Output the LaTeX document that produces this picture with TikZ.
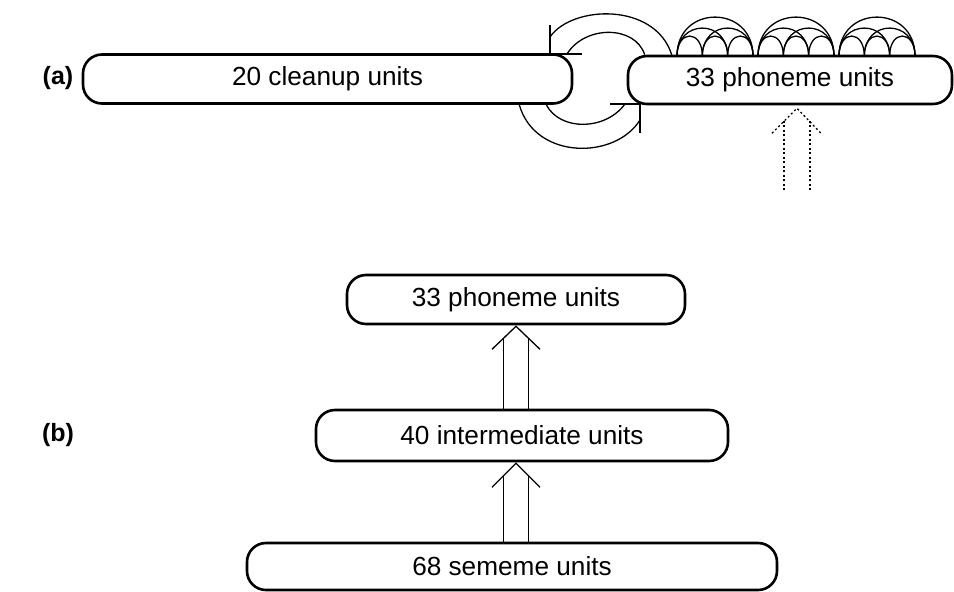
\documentclass[tikz,border=0pt]{standalone}
\usepackage{fontspec}
\setmainfont{Liberation Sans}
\usetikzlibrary{calc}
\begin{document}
\begin{tikzpicture}[x=1pt,y=-1pt,
  unitbox/.style={draw,line width=2.6pt,rounded corners=19pt,inner sep=0pt,font=\fontsize{26.2}{31}\selectfont},
  thinline/.style={line width=1.3pt},
  dotline/.style={line width=1.3pt,dash pattern=on 2pt off 2.5pt},
  panel/.style={font=\bfseries\fontsize{25}{30}\selectfont}]
\useasboundingbox (0,0) rectangle (954,592);
% (a)
\node[panel] (la) at (58,78) {(a)};
\node[unitbox,minimum width=489pt,minimum height=49pt] (cu) at (327.5,79) {20 cleanup units};
\node[unitbox,minimum width=324pt,minimum height=48pt] (pa) at (790,80) {33 phoneme units};
% self connections among phoneme units
\foreach \g in {677,758,839}{
  \foreach \i/\j/\h in {0/1/20,1/2/20,2/3/20,0/2/28,1/3/28,0/3/39}{
    \draw[thinline] (\g+25.33*\i,56) .. controls (\g+25.33*\i,56-1.33*\h) and (\g+25.33*\j,56-1.33*\h) .. (\g+25.33*\j,56);
  }
}
% phoneme -> cleanup (top)
\coordinate (t1) at (550,54);
\draw[thinline] ($(pa.north west)+(45,0)$) .. controls (655,2) and (572,5) .. ($(t1)+(0,-17)$);
\draw[thinline] ($(pa.north west)+(18,0)$) .. controls (635,25) and (585,25) .. ($(t1)+(17,0)$);
\draw[thinline] ($(t1)+(0,-29)$) -- (t1) -- ($(t1)+(32,0)$);
% cleanup -> phoneme (bottom)
\coordinate (t2) at (640,104);
\draw[thinline] ($(cu.south east)+(-54,0)$) .. controls (535,160) and (615,160) .. ($(t2)+(0,16)$);
\draw[thinline] ($(cu.south east)+(-27,0)$) .. controls (560,131) and (605,131) .. ($(t2)+(-15,0)$);
\draw[thinline] ($(t2)+(-30,0)$) -- (t2) -- ($(t2)+(0,29)$);
% dotted input arrow
\coordinate (t3) at ($(pa.south)+(7,3)$);
\coordinate (in1) at (784,190);
\coordinate (in2) at (810,190);
\draw[dotline] ($(t3)+(-25,25)$) -- (t3) -- ($(t3)+(24,25)$);
\draw[dotline] (in1) -- (784,121);
\draw[dotline] (in2) -- (810,121);
% (b)
\node[panel] (lb) at (58,435) {(b)};
\node[unitbox,minimum width=338pt,minimum height=49pt] (pb) at (516,299.5) {33 phoneme units};
\node[unitbox,minimum width=412pt,minimum height=51pt] (im) at (522,435.5) {40 intermediate units};
\node[unitbox,minimum width=530pt,minimum height=47pt] (se) at (512,566.5) {68 sememe units};
% intermediate -> phoneme
\draw[thinline] ($(pb.south)+(-24,24)$) -- ($(pb.south)+(0,1)$) -- ($(pb.south)+(24,24)$);
\draw[thinline] ($(pb.south)+(-12.5,12.5)$) -- ($(pb.south |- im.north)+(-12.5,0)$);
\draw[thinline] ($(pb.south)+(12.5,12.5)$) -- ($(pb.south |- im.north)+(12.5,0)$);
% sememe -> intermediate
\coordinate (t4) at ($(pb.south |- im.south)+(0,1)$);
\draw[thinline] ($(t4)+(-24,24)$) -- (t4) -- ($(t4)+(24,24)$);
\draw[thinline] ($(t4)+(-12.5,12.5)$) -- ($(t4 |- se.north)+(-12.5,0)$);
\draw[thinline] ($(t4)+(12.5,12.5)$) -- ($(t4 |- se.north)+(12.5,0)$);
\end{tikzpicture}
\end{document}
